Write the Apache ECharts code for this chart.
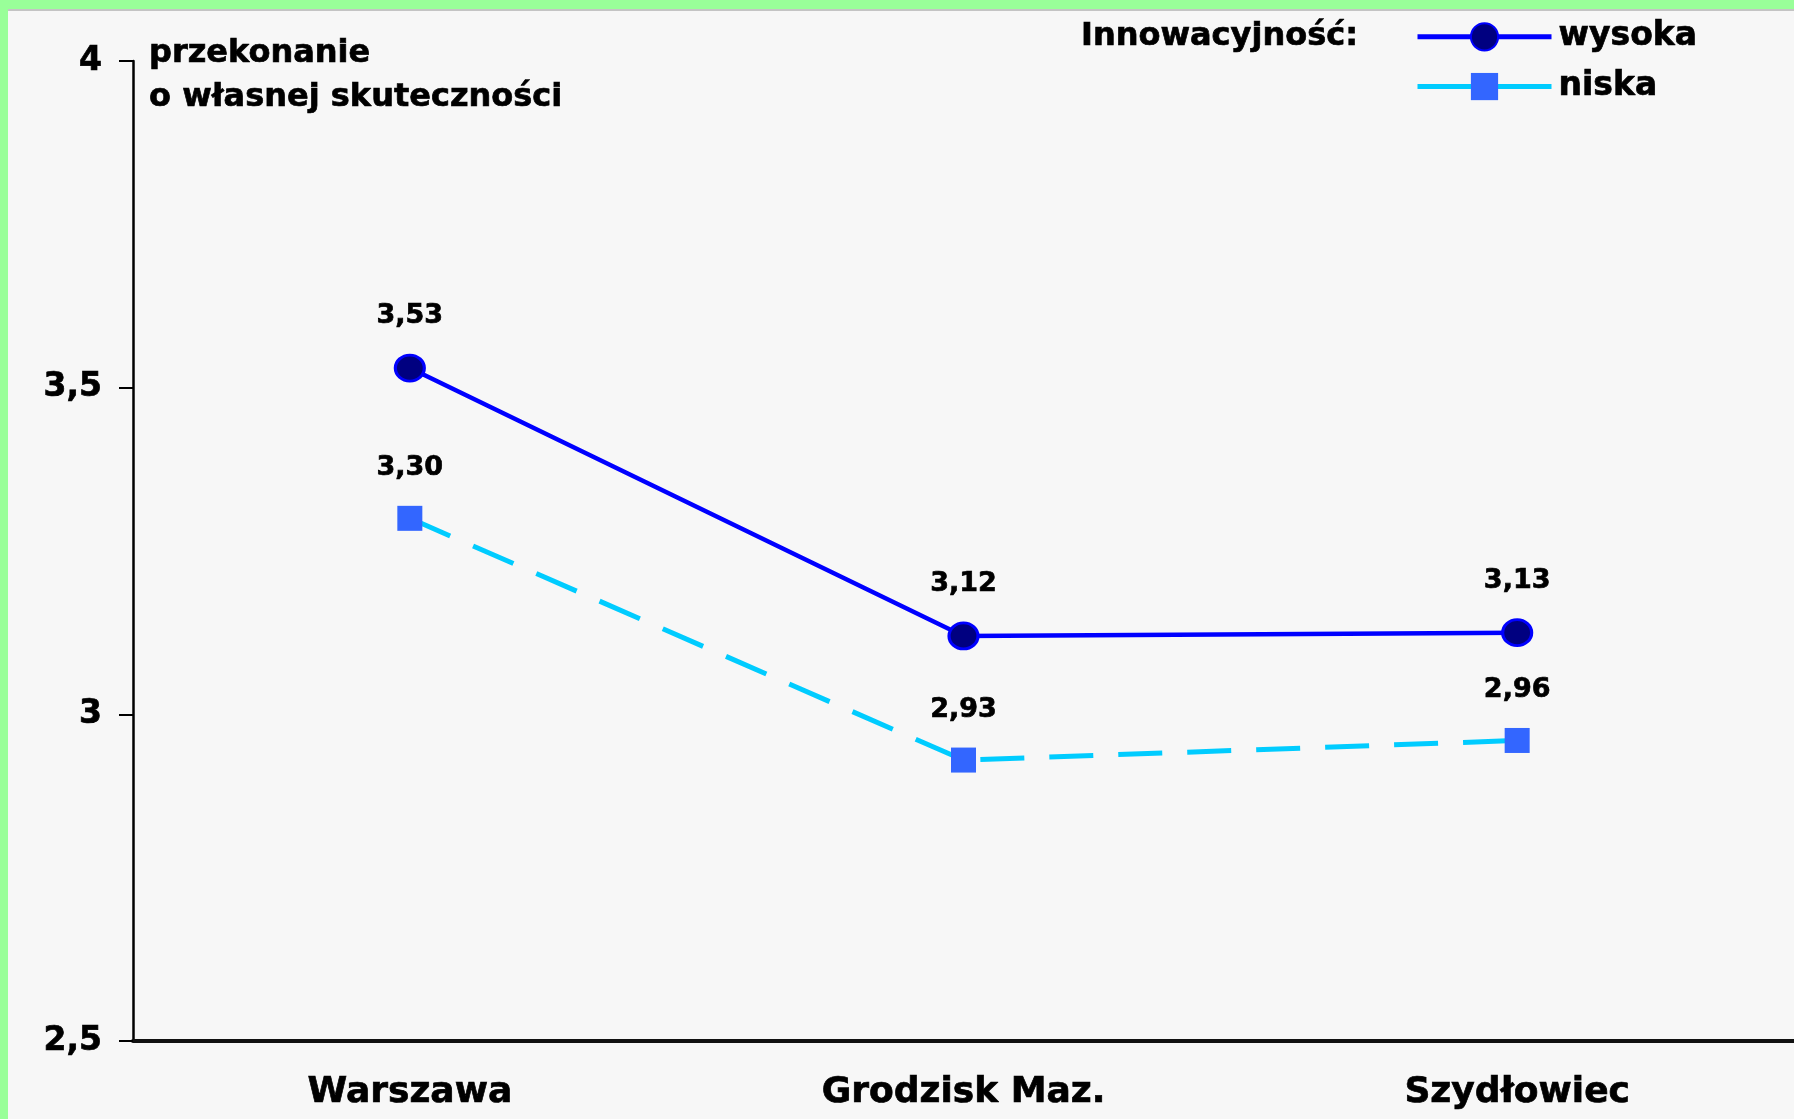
<!DOCTYPE html>
<html>
<head>
<meta charset="utf-8">
<script src="https://cdn.jsdelivr.net/npm/echarts@6/dist/echarts.min.js"></script>
<style>
  html, body { margin: 0; padding: 0; width: 1794px; height: 1119px; background: #99ff99; overflow: hidden; }
  #chart { position: absolute; left: 8px; top: 9px; width: 1786px; height: 1108px; background: #f7f7f7; border-top: 2px solid #c4c4c4; }
</style>
</head>
<body>
<div id="chart"></div>
<script>
const cities = ['Warszawa', 'Grodzisk Maz.', 'Szydłowiec'];
const wysoka = [3.53, 3.12, 3.125];
const niska = [3.30, 2.93, 2.96];
const yMin = 2.5;
const yMax = 4;
const yStep = 0.5;

const font = 'DejaVu Sans';
const comma = v => String(v).replace('.', ',');
// heavier text, the original uses a very bold face
const heavy = { fontFamily: font, fontWeight: 'bold', color: '#000', textBorderColor: '#000', textBorderWidth: 0.7 };

const chart = echarts.init(document.getElementById('chart'));
chart.setOption({
  animation: false,
  backgroundColor: 'transparent',
  title: [
    {
      text: 'przekonanie\no własnej skuteczności',
      left: 141,
      top: 21,
      padding: 0,
      textStyle: Object.assign({ fontSize: 32, lineHeight: 44 }, heavy)
    },
    {
      text: 'Innowacyjność:',
      left: 1073,
      top: 10,
      padding: 0,
      textStyle: Object.assign({ fontSize: 32 }, heavy)
    }
  ],
  legend: {
    orient: 'vertical',
    left: 1407,
    top: 9,
    padding: 0,
    itemWidth: 134,
    itemHeight: 34,
    itemGap: 16,
    selectedMode: false,
    lineStyle: { width: 5, type: 'solid' },
    textStyle: Object.assign({ fontSize: 33, padding: [0, 0, 0, 2] }, heavy),
    data: ['wysoka', 'niska']
  },
  grid: {
    left: 125,
    right: -10,
    top: 50,
    bottom: 78
  },
  xAxis: {
    type: 'category',
    data: cities,
    axisLine: { lineStyle: { color: '#111', width: 4 } },
    axisTick: { length: 12, lineStyle: { color: '#000', width: 2 } },
    axisLabel: Object.assign({ margin: 34, fontSize: 36 }, heavy)
  },
  yAxis: {
    type: 'value',
    min: yMin,
    max: yMax,
    interval: yStep,
    splitLine: { show: false },
    axisLine: { show: true, lineStyle: { color: '#000', width: 2.5 } },
    axisTick: { show: true, length: 14, lineStyle: { color: '#000', width: 2 } },
    axisLabel: Object.assign({ margin: 31, fontSize: 33, formatter: comma }, heavy)
  },
  series: [
    {
      name: 'wysoka',
      type: 'line',
      data: wysoka,
      symbol: 'circle',
      symbolSize: [29, 26],
      lineStyle: { color: '#0000ff', width: 4.5 },
      itemStyle: { color: '#000080', borderColor: '#0000ff', borderWidth: 3 },
      label: Object.assign({
        show: true,
        position: 'top',
        distance: 24,
        fontSize: 27,
        formatter: p => p.value.toFixed(2).replace('.', ',')
      }, heavy),
      z: 3
    },
    {
      name: 'niska',
      type: 'line',
      data: niska,
      symbol: 'rect',
      symbolSize: 25,
      lineStyle: { color: '#00ccff', width: 5, type: [44, 25] },
      itemStyle: { color: '#3366ff', borderWidth: 0 },
      label: Object.assign({
        show: true,
        position: 'top',
        distance: 24,
        fontSize: 27,
        formatter: p => p.value.toFixed(2).replace('.', ',')
      }, heavy),
      z: 2
    }
  ]
});
</script>
</body>
</html>
